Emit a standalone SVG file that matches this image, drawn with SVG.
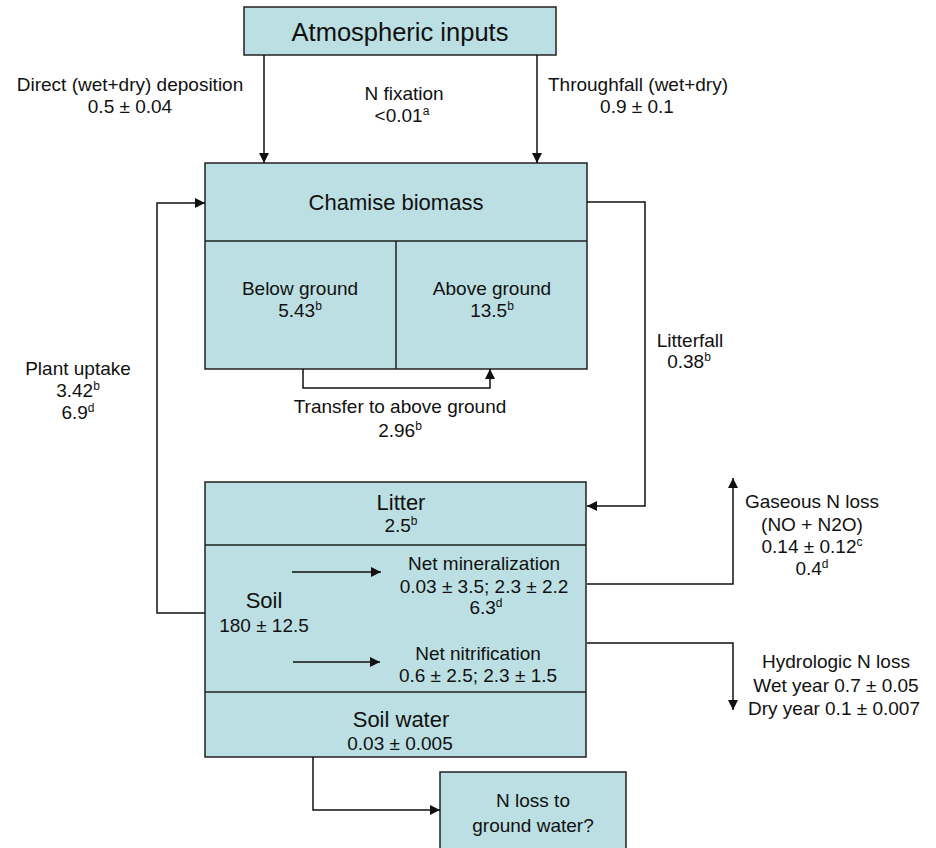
<svg xmlns="http://www.w3.org/2000/svg" width="936" height="848" viewBox="0 0 936 848">
<style>
text{font-family:"Liberation Sans",Arial,sans-serif;fill:#111;text-anchor:middle;font-size:19px}
.box{fill:#bbdfe2;stroke:#222;stroke-width:1.5}
.div{stroke:#222;stroke-width:1.5;fill:none}
.t22{font-size:22px}
.t25{font-size:25.5px}
.conn path{fill:none;stroke:#111;stroke-width:1.5}
.sup{font-size:12px}
</style>
<defs>
<marker id="ah" markerUnits="userSpaceOnUse" markerWidth="10" markerHeight="10" refX="10" refY="5" orient="auto">
<path d="M0,0 L10,5 L0,10 z" fill="#111"/>
</marker>
</defs>
<rect width="936" height="848" fill="#fff"/>

<g id="atmospheric">
<rect class="box" x="244" y="7" width="312" height="48"/>
<text class="t25" x="400" y="41">Atmospheric inputs</text>
</g>

<g id="chamise">
<rect class="box" x="205" y="163" width="382" height="206"/>
<path class="div" d="M205,241 H587 M396,241 V369"/>
<text class="t22" x="396" y="210">Chamise biomass</text>
<text x="300" y="295">Below ground</text>
<text x="300" y="317">5.43<tspan class="sup" dy="-7">b</tspan></text>
<text x="492" y="295">Above ground</text>
<text x="492" y="317">13.5<tspan class="sup" dy="-7">b</tspan></text>
</g>

<g id="soilbox">
<rect class="box" x="205" y="482" width="381" height="275"/>
<path class="div" d="M205,545 H586 M205,692 H586"/>
<text class="t22" x="401" y="510">Litter</text>
<text x="401" y="532">2.5<tspan class="sup" dy="-7">b</tspan></text>
<text class="t22" x="264" y="608">Soil</text>
<text x="264" y="632">180 ± 12.5</text>
<text x="484" y="570">Net mineralization</text>
<text x="484" y="593">0.03 ± 3.5; 2.3 ± 2.2</text>
<text x="486" y="614">6.3<tspan class="sup" dy="-7">d</tspan></text>
<text x="478" y="660">Net nitrification</text>
<text x="478" y="682">0.6 ± 2.5; 2.3 ± 1.5</text>
<text class="t22" x="401" y="727">Soil water</text>
<text x="400" y="750">0.03 ± 0.005</text>
</g>

<g id="groundwater">
<rect class="box" x="440" y="772" width="186" height="90"/>
<text x="533" y="807">N loss to</text>
<text x="533" y="832">ground water?</text>
</g>

<g class="conn" id="connectors">
<path d="M264,55 V163" marker-end="url(#ah)"/>
<path d="M537,55 V163" marker-end="url(#ah)"/>
<path d="M205,613 H157 V203 H205" marker-end="url(#ah)"/>
<path d="M587,202 H645 V506 H587" marker-end="url(#ah)"/>
<path d="M303,369 V388 H490 V369" marker-end="url(#ah)"/>
<path d="M292,572 H381" marker-end="url(#ah)"/>
<path d="M293,662 H380" marker-end="url(#ah)"/>
<path d="M587,584 H733 V478" marker-end="url(#ah)"/>
<path d="M587,643 H733 V710" marker-end="url(#ah)"/>
<path d="M313,757 V810 H440" marker-end="url(#ah)"/>
</g>

<g id="labels">
<text x="130" y="91">Direct (wet+dry) deposition</text>
<text x="130" y="113">0.5 ± 0.04</text>
<text x="404" y="100">N fixation</text>
<text x="402" y="122">&lt;0.01<tspan class="sup" dy="-7">a</tspan></text>
<text x="638" y="91">Throughfall (wet+dry)</text>
<text x="637" y="113">0.9 ± 0.1</text>
<text x="78" y="375">Plant uptake</text>
<text x="78" y="397">3.42<tspan class="sup" dy="-7">b</tspan></text>
<text x="78" y="419">6.9<tspan class="sup" dy="-7">d</tspan></text>
<text x="690" y="347">Litterfall</text>
<text x="689" y="368">0.38<tspan class="sup" dy="-7">b</tspan></text>
<text x="400" y="413">Transfer to above ground</text>
<text x="400" y="437">2.96<tspan class="sup" dy="-7">b</tspan></text>
<text x="812" y="508">Gaseous N loss</text>
<text x="812" y="531">(NO + N2O)</text>
<text x="812" y="553">0.14 ± 0.12<tspan class="sup" dy="-7">c</tspan></text>
<text x="812" y="575">0.4<tspan class="sup" dy="-7">d</tspan></text>
<text x="836" y="668">Hydrologic N loss</text>
<text x="836" y="692">Wet year 0.7 ± 0.05</text>
<text x="834" y="715">Dry year 0.1 ± 0.007</text>
</g>
</svg>
